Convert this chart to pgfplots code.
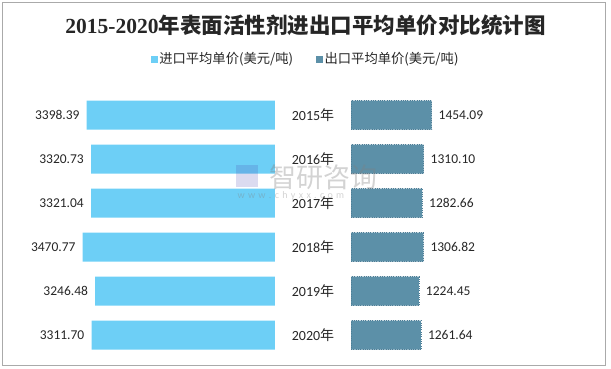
\documentclass[border=0pt]{standalone}
\usepackage{pgfplots}
\usepackage{pgfplotstable}
\pgfplotsset{compat=1.18}
\usepackage{fontspec}
\setmainfont{Carlito}
\newfontfamily\cjk{Noto Sans CJK SC}
\newfontfamily\tserif{Liberation Serif}
\definecolor{imp}{RGB}{109,207,246}
\definecolor{exp}{RGB}{92,144,168}
\definecolor{expedge}{RGB}{78,125,150}
\definecolor{txt}{RGB}{38,38,38}
\definecolor{frame}{RGB}{170,170,170}

\pgfplotstableread{
y val label
0 3398.39 3398.39
1 3320.73 3320.73
2 3321.04 3321.04
3 3470.77 3470.77
4 3246.48 3246.48
5 3311.70 3311.70
}\importdata

\pgfplotstableread{
y val label
0 1454.09 1454.09
1 1310.10 1310.10
2 1282.66 1282.66
3 1306.82 1306.82
4 1224.45 1224.45
5 1261.64 1261.64
}\exportdata

\begin{document}
\begin{tikzpicture}
\useasboundingbox (0pt,0pt) rectangle (611pt,368pt);
\draw[frame,line width=0.8pt] (2.5pt,2.5pt) rectangle (605.5pt,365.5pt);

% title
\node[text=txt] at (305.5pt,343pt) {\fontsize{21.5}{24}\selectfont\bfseries{\tserif 2015-2020}{\cjk 年表面活性剂进出口平均单价对比统计图}};

\pgfplotsset{
  butterfly/.style={
    scale only axis,
    width=249.3pt, height=264pt,
    xmin=0, xmax=4500,
    ymin=-0.5, ymax=5.5,
    y dir=reverse,
    enlargelimits=false,
    axis line style={draw=none},
    tick style={draw=none},
    major tick length=0pt,
    xtick=\empty,
    ytick={0,1,2,3,4,5},
    clip=false,
  }
}

% left axis (import)
\begin{axis}[butterfly,
  at={(25.7pt,11pt)}, anchor=south west,
  x dir=reverse,
  yticklabels={},
]
\addplot[xbar, fill=imp, draw=none, bar width=29pt,
  point meta=explicit symbolic,
  nodes near coords,
  every node near coord/.append style={anchor=east, inner sep=0pt, xshift=-7pt, text=txt, font=\fontsize{13.5}{15}\selectfont},
] table[x=val, y=y, meta=label] {\importdata};
\end{axis}

% right axis (export)
\begin{axis}[butterfly,
  at={(351pt,11pt)}, anchor=south west,
  yticklabels={{2015{\cjk 年}},{2016{\cjk 年}},{2017{\cjk 年}},{2018{\cjk 年}},{2019{\cjk 年}},{2020{\cjk 年}}},
  yticklabel style={anchor=center, xshift=-38pt, text=txt, font=\fontsize{14}{16}\selectfont},
  legend columns=2,
  legend style={draw=none, fill=none, at={(-0.1817,1.1288)}, anchor=center,
    font=\cjk\fontsize{13.3}{15}\selectfont, text=txt,
    /tikz/every even column/.append style={column sep=21pt}},
]
\addlegendimage{legend image code/.code={\fill[imp] (4pt,-3pt) rectangle (10pt,3pt);}}
\addlegendentry{进口平均单价(美元/吨)}
\addlegendimage{legend image code/.code={\fill[exp] (4pt,-3pt) rectangle (10pt,3pt);}}
\addlegendentry{出口平均单价(美元/吨)}
\addplot[xbar, fill=exp, draw=expedge, dotted, line width=0.3pt, bar width=29pt, forget plot,
  point meta=explicit symbolic,
  nodes near coords,
  every node near coord/.append style={anchor=west, inner sep=0pt, xshift=7pt, text=txt, font=\fontsize{13.5}{15}\selectfont, solid},
] table[x=val, y=y, meta=label] {\exportdata};
\end{axis}

% watermark
\node[text=gray, opacity=0.35, anchor=west] at (266pt,191pt) {\cjk\fontsize{27}{28}\selectfont 智研咨询};
\node[text=gray, opacity=0.35, anchor=west] at (234pt,172pt) {\fontsize{10}{11}\selectfont w\,\,w\,\,w\,\,.\,\,c\,\,h\,\,y\,\,x\,\,x\,\,.\,\,c\,\,o\,\,m};
\fill[blue!40!gray, opacity=0.2] (236pt,181pt) rectangle (258pt,203pt);
\end{tikzpicture}
\end{document}
